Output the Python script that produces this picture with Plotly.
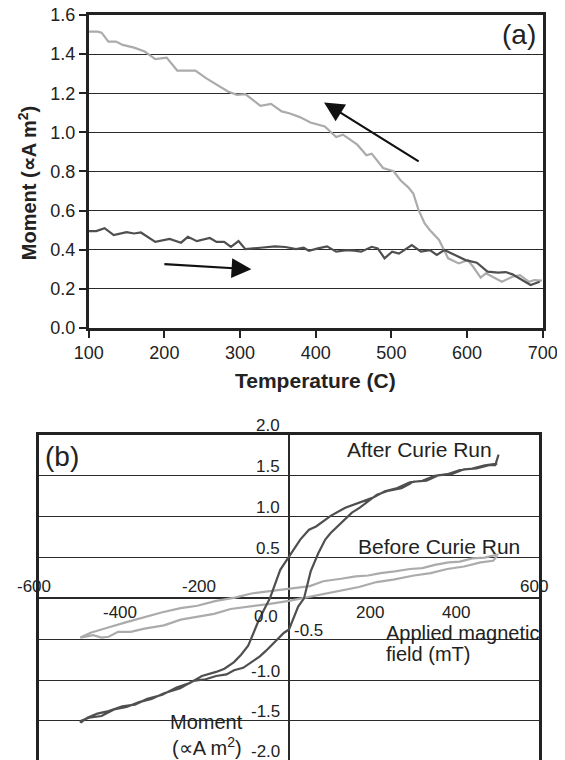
import plotly.graph_objects as go

# ---- panel (a): Curie run, moment vs temperature ----
heat_T = [100, 110, 121, 133, 150, 160, 169, 188, 207, 222, 231, 243, 260, 269, 279, 288, 298,
          307, 327, 346, 360, 374, 384, 391, 403, 415, 427, 441, 451, 460, 474, 482, 491, 501,
          510, 527, 539, 551, 560, 570, 584, 598, 613, 627, 641, 651, 660, 672, 684, 696]
heat_M = [0.495, 0.495, 0.51, 0.475, 0.49, 0.483, 0.488, 0.44, 0.455, 0.436, 0.466, 0.444, 0.46,
          0.44, 0.44, 0.415, 0.444, 0.403, 0.41, 0.417, 0.414, 0.403, 0.41, 0.395, 0.407, 0.417,
          0.39, 0.398, 0.395, 0.39, 0.415, 0.407, 0.356, 0.39, 0.38, 0.424, 0.39, 0.398, 0.373,
          0.398, 0.373, 0.347, 0.334, 0.288, 0.283, 0.286, 0.274, 0.245, 0.22, 0.236]

cool_T = [100, 112, 117, 126, 136, 145, 160, 174, 188, 203, 217, 241, 255, 269, 284, 296, 307,
          327, 341, 355, 365, 379, 393, 412, 427, 436, 455, 467, 474, 489, 503, 512, 522, 529,
          536, 544, 551, 563, 575, 589, 601, 608, 618, 625, 634, 646, 660, 670, 682, 689, 699]
cool_M = [1.515, 1.515, 1.51, 1.464, 1.464, 1.447, 1.433, 1.413, 1.374, 1.382, 1.316, 1.316,
          1.277, 1.243, 1.209, 1.192, 1.195, 1.136, 1.146, 1.107, 1.098, 1.078, 1.05, 1.03,
          0.976, 0.988, 0.937, 0.883, 0.891, 0.818, 0.801, 0.755, 0.72, 0.687, 0.602, 0.534,
          0.5, 0.45, 0.356, 0.33, 0.347, 0.313, 0.257, 0.28, 0.262, 0.236, 0.262, 0.27, 0.236,
          0.245, 0.242]

# ---- panel (b): hysteresis loops ----
after_H = [500, 470, 440, 410, 380, 350, 320, 290, 260, 230, 200, 170, 135, 100, 65, 48, 27, 0,
           -21, -38, -46, -60, -72, -85, -98, -115, -132, -155, -175, -209, -240, -270, -304,
           -340, -370, -400, -433, -460, -484, -500,
           -500, -480, -450, -420, -390, -360, -330, -300, -261, -230, -200, -175, -150, -132,
           -110, -90, -70, -55, -40, -29, -12, 0, 9, 22, 36, 52, 70, 87, 100, 117, 135, 151,
           170, 185, 211, 240, 270, 300, 330, 360, 390, 420, 450, 480, 495, 503]
after_M = [1.65, 1.63, 1.59, 1.57, 1.52, 1.50, 1.44, 1.42, 1.35, 1.31, 1.23, 1.17, 1.11, 1.01,
           0.88, 0.84, 0.72, 0.51, 0.35, 0.11, 0.0, -0.14, -0.26, -0.42, -0.58, -0.69, -0.78,
           -0.86, -0.90, -0.95, -1.04, -1.09, -1.18, -1.23, -1.30, -1.32, -1.38, -1.41, -1.46,
           -1.52,
           -1.50, -1.46, -1.44, -1.36, -1.33, -1.27, -1.23, -1.16, -1.10, -1.01, -0.99, -0.95,
           -0.93, -0.88, -0.85, -0.78, -0.71, -0.64, -0.56, -0.50, -0.42, -0.38, -0.26, -0.10,
           0.0, 0.33, 0.55, 0.72, 0.80, 0.88, 0.97, 1.05, 1.11, 1.17, 1.27, 1.32, 1.35, 1.43,
           1.44, 1.51, 1.52, 1.58, 1.59, 1.63, 1.63, 1.76]

before_H = [503, 470, 440, 410, 383, 350, 320, 290, 254, 220, 190, 160, 125, 100, 82, 50, 20,
            -20, -51, -90, -130, -175, -220, -260, -304, -350, -390, -430, -476, -501,
            -501, -470, -450, -433, -410, -380, -347, -300, -260, -218, -180, -140, -90, -50, 0,
            39, 80, 120, 168, 210, 250, 300, 340, 380, 420, 460, 490, 500]
before_M = [0.54, 0.50, 0.49, 0.45, 0.44, 0.41, 0.37, 0.36, 0.33, 0.31, 0.28, 0.27, 0.24, 0.22,
            0.21, 0.15, 0.13, 0.11, 0.09, 0.06, 0.01, -0.03, -0.09, -0.12, -0.17, -0.23, -0.29,
            -0.35, -0.42, -0.48,
            -0.48, -0.45, -0.48, -0.47, -0.41, -0.41, -0.37, -0.33, -0.26, -0.22, -0.19, -0.13,
            -0.10, -0.07, -0.03, 0.01, 0.05, 0.10, 0.14, 0.20, 0.23, 0.28, 0.31, 0.36, 0.39,
            0.44, 0.46, 0.52]

b_yticks = [2.0, 1.5, 1.0, 0.5, 0.0, -0.5, -1.0, -1.5, -2.0]
b_xticks = [-600, -400, -200, 200, 400, 600]

DARK = "#4f4f4f"
LIGHT = "#ababab"
INK = "#222222"
FONT = "Liberation Sans, Arial, sans-serif"

# the page body adds an 8px margin, so the figure is sized to the visible window
W, H = 557, 752

fig = go.Figure()
fig.add_trace(go.Scatter(x=cool_T, y=cool_M, mode="lines", line=dict(color=LIGHT, width=2.2),
                         xaxis="x", yaxis="y"))
fig.add_trace(go.Scatter(x=heat_T, y=heat_M, mode="lines", line=dict(color=DARK, width=2.2),
                         xaxis="x", yaxis="y"))
fig.add_trace(go.Scatter(x=before_H, y=before_M, mode="lines", line=dict(color=LIGHT, width=2.2),
                         xaxis="x2", yaxis="y2"))
fig.add_trace(go.Scatter(x=after_H, y=after_M, mode="lines", line=dict(color=DARK, width=2.2),
                         xaxis="x2", yaxis="y2"))

ann = []
# panel (a) titles, label and arrows
ann.append(dict(x=0.0341, y=0.767, xref="paper", yref="paper", textangle=-90,
                xanchor="center", yanchor="middle",
                text="<b>Moment (∝A m<sup>2</sup>)</b>", showarrow=False,
                font=dict(size=20, color=INK)))
ann.append(dict(x=0.5524, y=0.5053, xref="paper", yref="paper", xanchor="center",
                yanchor="middle", text="<b>Temperature (C)</b>", showarrow=False,
                font=dict(size=21, color=INK)))
ann.append(dict(x=668, y=1.50, xref="x", yref="y", text="(a)", showarrow=False,
                font=dict(size=28, color=INK)))
ann.append(dict(x=411, y=1.153, ax=538, ay=0.847, xref="x", yref="y", axref="x", ayref="y",
                text="", showarrow=True, arrowhead=2, arrowsize=1.8, arrowwidth=2.2,
                arrowcolor="#111111"))
ann.append(dict(x=315, y=0.30, ax=198, ay=0.327, xref="x", yref="y", axref="x", ayref="y",
                text="", showarrow=True, arrowhead=2, arrowsize=1.8, arrowwidth=2.2,
                arrowcolor="#111111"))

# panel (b) tick labels placed like the original (alternating sides)
y_pos = {-2.0: -1.87}
y_shift = {0.0: -18, -2.0: 0}
x_off = {0.0: -9}
for v in b_yticks:
    right_side = (v == -0.5)
    ann.append(dict(x=0, y=y_pos.get(v, v), xref="x2", yref="y2", text=f"{v:.1f}",
                    showarrow=False, xanchor="left" if right_side else "right",
                    xshift=3 if right_side else x_off.get(v, -7), yshift=y_shift.get(v, 9),
                    font=dict(size=17, color=INK)))
x_above = {-600, -200, 600}
x_shift = {-600: -5, -400: -2, -200: -7, 200: -2, 400: 0, 600: -5}
for v in b_xticks:
    ann.append(dict(x=v, y=0, xref="x2", yref="y2", text=str(v), showarrow=False,
                    xshift=x_shift[v], yshift=12 if v in x_above else -14,
                    font=dict(size=17, color=INK)))

ann.append(dict(x=-546, y=1.74, xref="x2", yref="y2", text="(b)", showarrow=False,
                font=dict(size=28, color=INK)))
ann.append(dict(x=314, y=1.82, xref="x2", yref="y2", text="After Curie Run", showarrow=False,
                font=dict(size=21, color=INK)))
ann.append(dict(x=361, y=0.63, xref="x2", yref="y2", text="Before Curie Run", showarrow=False,
                font=dict(size=21, color=INK)))
ann.append(dict(x=229, y=-0.42, xref="x2", yref="y2", text="Applied magnetic",
                showarrow=False, xanchor="left", font=dict(size=20, color=INK)))
ann.append(dict(x=229, y=-0.675, xref="x2", yref="y2", text="field (mT)",
                showarrow=False, xanchor="left", font=dict(size=20, color=INK)))
ann.append(dict(x=-198, y=-1.51, xref="x2", yref="y2", text="Moment",
                showarrow=False, font=dict(size=20, color=INK)))
ann.append(dict(x=-198, y=-1.81, xref="x2", yref="y2", text="(∝A m<sup>2</sup>)",
                showarrow=False, font=dict(size=20, color=INK)))

fig.update_layout(
    width=W, height=H,
    margin=dict(l=0, r=0, t=0, b=0),
    paper_bgcolor="white", plot_bgcolor="white",
    showlegend=False,
    font=dict(family=FONT, color=INK),
    annotations=ann,
    xaxis=dict(domain=[0.1449, 0.960], anchor="y", range=[100, 700], dtick=100,
               showgrid=False, zeroline=False, showline=True, mirror=True,
               linecolor=INK, linewidth=2.5, ticks="outside", ticklen=7, tickwidth=1.5,
               tickcolor=INK, tickfont=dict(size=18, color=INK), automargin=False,
               ticklabeloverflow="allow"),
    yaxis=dict(domain=[0.5745, 0.9907], anchor="x", range=[0, 1.6], dtick=0.2,
               tickformat=".1f", showgrid=True, gridcolor="#2a2a2a", gridwidth=1.3,
               zeroline=False, showline=True, mirror=True, linecolor=INK, linewidth=2.5,
               ticks="outside", ticklen=7, tickwidth=1.5, tickcolor=INK,
               tickfont=dict(size=18, color=INK), automargin=False,
               ticklabeloverflow="allow"),
    xaxis2=dict(domain=[0.0557, 0.9533], anchor="y2", range=[-600, 600], side="top",
                showgrid=False, showticklabels=False, zeroline=True, zerolinecolor="#2a2a2a",
                zerolinewidth=1.5, showline=True, linecolor=INK, linewidth=2.5,
                automargin=False),
    yaxis2=dict(domain=[0.0, 0.4322], anchor="x2", range=[-1.978, 2.0], dtick=0.5,
                showgrid=True, gridcolor="#2a2a2a", gridwidth=1.3, showticklabels=False,
                zeroline=True, zerolinecolor="#2a2a2a", zerolinewidth=1.5,
                showline=True, mirror=True, linecolor=INK, linewidth=2.5,
                automargin=False),
)

fig.write_html("out.html")
